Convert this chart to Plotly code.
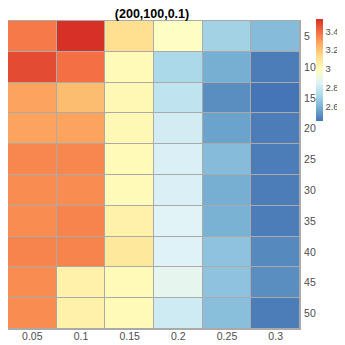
import plotly.graph_objects as go

# columns (x) and rows (y)
cols = ["0.05", "0.1", "0.15", "0.2", "0.25", "0.3"]
rows = ["5", "10", "15", "20", "25", "30", "35", "40", "45", "50"]

# values, one list per row
r5 = [3.37, 3.53, 3.125, 2.98, 2.70, 2.63]
r10 = [3.47, 3.39, 3.01, 2.72, 2.59, 2.47]
r15 = [3.28, 3.22, 3.02, 2.77, 2.51, 2.45]
r20 = [3.28, 3.28, 3.02, 2.82, 2.56, 2.47]
r25 = [3.34, 3.34, 3.01, 2.84, 2.63, 2.47]
r30 = [3.33, 3.33, 3.01, 2.84, 2.59, 2.47]
r35 = [3.33, 3.35, 3.05, 2.86, 2.60, 2.47]
r40 = [3.35, 3.35, 3.09, 2.85, 2.65, 2.50]
r45 = [3.33, 3.05, 3.01, 2.88, 2.65, 2.51]
r50 = [3.33, 3.05, 3.01, 2.81, 2.64, 2.47]
z = [r5, r10, r15, r20, r25, r30, r35, r40, r45, r50]

cbar_ticks = [2.6, 2.8, 3.0, 3.2, 3.4]
cbar_labels = ["2.6", "2.8", "3", "3.2", "3.4"]

# RdYlBu (9 classes), reversed
pal = ["#4575b4", "#74add1", "#abd9e9", "#e0f3f8", "#ffffbf",
       "#fee090", "#fdae61", "#f46d43", "#d73027"]
scale = [[i / (len(pal) - 1), c] for i, c in enumerate(pal)]

# the page body adds 8px, so the figure is 8px smaller and coords are shifted
OFF = 8
W = H = 345 - OFF


def fx(px):
    return (px - OFF) / W


def fy(py):
    return 1 - (py - OFF) / H


fig = go.Figure()
fig.add_trace(go.Heatmap(
    x=cols, y=rows, z=z,
    colorscale=scale,
    xgap=1, ygap=1,
    colorbar=dict(
        thickness=7, len=102 / H, lenmode="fraction",
        x=fx(316), xanchor="left", xpad=0,
        y=fy(19), yanchor="top", ypad=0,
        outlinewidth=0,
        tickvals=cbar_ticks, ticktext=cbar_labels,
        ticks="outside", ticklen=1, tickcolor="rgba(0,0,0,0)",
        tickfont=dict(size=9.5, color="#4d4d4d"),
    ),
))

fig.update_layout(
    width=W, height=H,
    margin=dict(l=0, r=0, t=0, b=0),
    title=dict(text="<b>(200,100,0.1)</b>", x=fx(152), xref="container",
               xanchor="center", y=1, yanchor="top",
               pad=dict(t=1, b=0, l=0, r=0),
               font=dict(size=12.5, color="black")),
    font=dict(family="Liberation Sans, Arial", size=10.5, color="#4d4d4d"),
    paper_bgcolor="white",
    plot_bgcolor="#aaaaaa",
)
fig.update_xaxes(domain=[fx(OFF), fx(300)], showgrid=False, zeroline=False,
                 ticks="", ticklen=0, ticklabelstandoff=-3,
                 showline=True, mirror=True,
                 linecolor="#aaaaaa", linewidth=1)
fig.update_yaxes(domain=[fy(329), fy(21)], side="right",
                 autorange="reversed", showgrid=False, zeroline=False,
                 ticks="", ticklen=0, ticklabelstandoff=1,
                 showline=True, mirror=True,
                 linecolor="#aaaaaa", linewidth=1)

fig.write_html("out.html")
